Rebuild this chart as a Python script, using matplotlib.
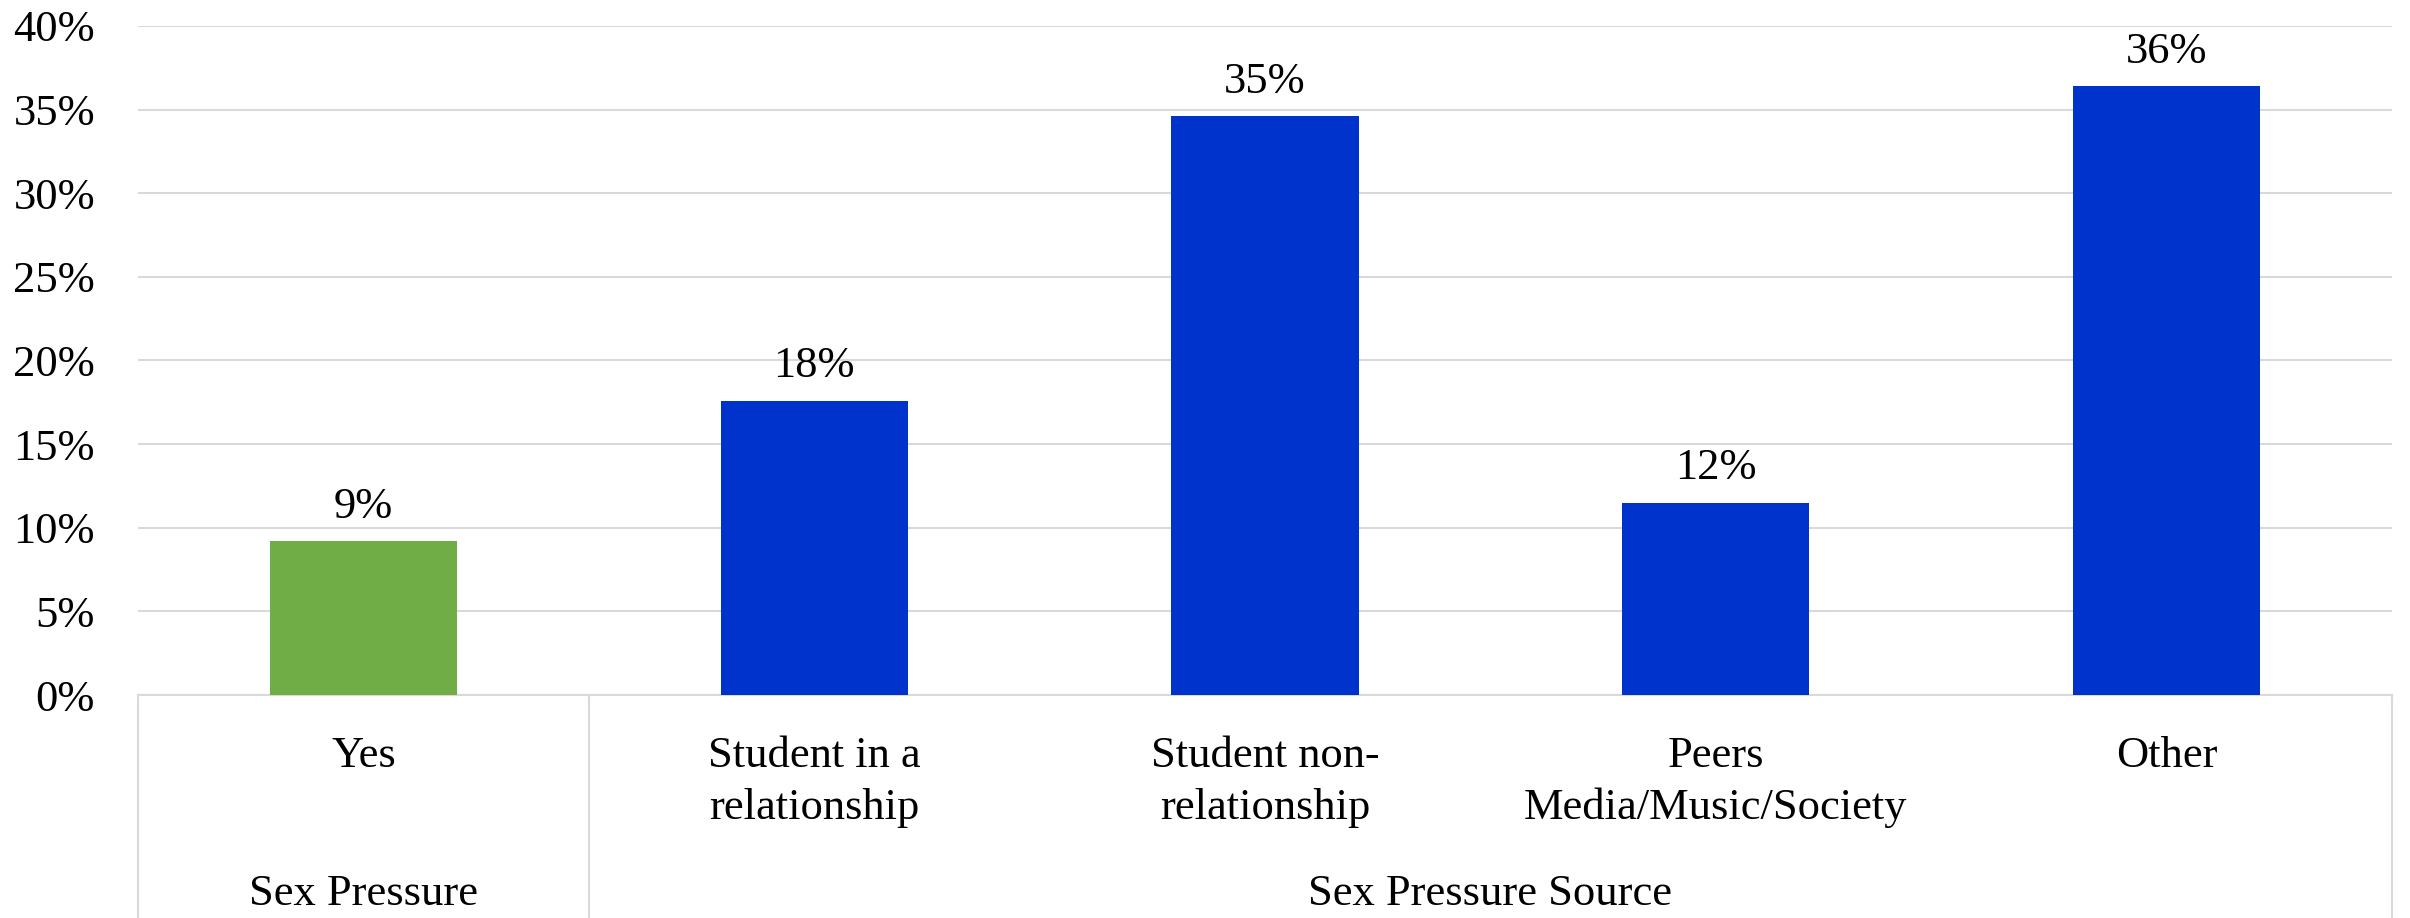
import matplotlib
matplotlib.use("Agg")
import matplotlib.pyplot as plt
from matplotlib.ticker import PercentFormatter

# data
categories = ["Yes", "Student in a\nrelationship", "Student non-\nrelationship",
              "Peers\nMedia/Music/Society", "Other"]
values = [0.092, 0.176, 0.346, 0.115, 0.364]
value_labels = ["9%", "18%", "35%", "12%", "36%"]
bar_colors = ["#70AD47", "#0033CC", "#0033CC", "#0033CC", "#0033CC"]
groups = ["Sex Pressure", "Sex Pressure Source"]
group_spans = [(-0.5, 0.5), (0.5, 4.5)]
y_ticks = [0, 0.05, 0.10, 0.15, 0.20, 0.25, 0.30, 0.35, 0.40]

plt.rcParams["font.family"] = ["Liberation Serif", "DejaVu Serif"]
FS = 32
GRID = "#D9D9D9"

fig = plt.figure(figsize=(24.10, 9.18), dpi=100)
ax = fig.add_axes([0.0573, 0.2429, 0.9352, 0.7288])

x = list(range(len(categories)))
ax.bar(x, values, width=0.415, color=bar_colors, zorder=3)

for xi, v, lab in zip(x, values, value_labels):
    ax.annotate(lab, (xi, v), xytext=(0, 17), textcoords="offset points",
                ha="center", va="baseline", fontsize=FS)

ax.set_xlim(-0.5, 4.5)
ax.set_ylim(0, 0.40)
ax.set_yticks(y_ticks)
ax.yaxis.set_major_formatter(PercentFormatter(1.0, decimals=0))
ax.tick_params(axis="y", length=0, pad=31, labelsize=FS)
ax.set_xticks([])
ax.grid(axis="y", color=GRID, linewidth=1.5, zorder=0)
for s in ["top", "right", "left"]:
    ax.spines[s].set_visible(False)
ax.spines["bottom"].set_color(GRID)
ax.spines["bottom"].set_linewidth(1.5)

trans = ax.get_xaxis_transform()
for xi, cat in zip(x, categories):
    ax.text(xi, -0.062, cat, transform=trans, ha="center", va="top",
            fontsize=FS, linespacing=1.36)

for name, (a, b) in zip(groups, group_spans):
    ax.text((a + b) / 2, -0.314, name, transform=trans, ha="center",
            va="baseline", fontsize=FS)

for xs in [-0.5, 0.5, 4.5]:
    ax.plot([xs, xs], [0, -0.4], transform=trans, color=GRID,
            linewidth=1.5, clip_on=False)

fig.savefig("out.png", dpi=100)
